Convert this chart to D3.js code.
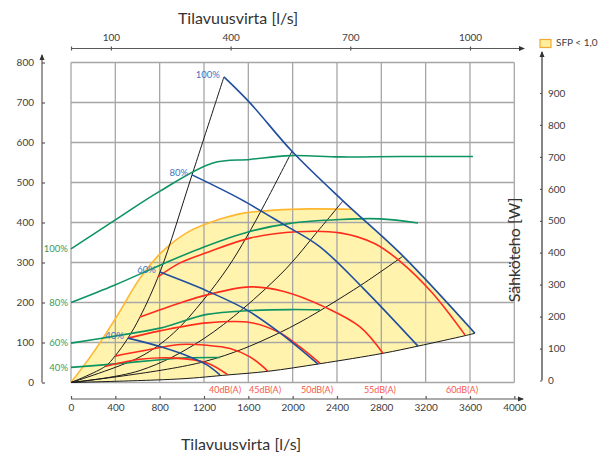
<!DOCTYPE html>
<html>
<head>
<meta charset="utf-8">
<script src="https://cdn.jsdelivr.net/npm/d3@7"></script>
<style>
    body { margin: 0; background: #fff; }
</style>
</head>
<body>
<div id="chart"></div>
<script>

/**
 * tick values
 */
const flowTicks = [0, 400, 800, 1200, 1600, 2000, 2400, 2800, 3200, 3600, 4000];   // bottom axis
const flowTopTicks = [0, 100, 400, 700, 1000];                                     // top axis, l/s
const pressureTicks = [0, 100, 200, 300, 400, 500, 600, 700, 800];
const powerTicks = [0, 100, 200, 300, 400, 500, 600, 700, 800, 900];

/**
 * fan curves [flow, pressure]
 */
const fanLabels = ["100%", "80%", "60%", "40%"];
const fan100 = [[1380, 764], [1615, 699], [1994, 578], [2454, 454], [2996, 316], [3645, 123]];
const fan80 = [[1092, 519], [1525, 459], [1913, 396], [2247, 339], [2635, 236], [3131, 91]];
const fan60 = [[803, 276], [1227, 229], [1588, 181], [1886, 124], [2229, 46]];
const fan40 = [[514, 111], [803, 90], [1074, 64], [1227, 44], [1344, 19]];

/**
 * electric power [flow, W] (right axis)
 */
const power100 = [[0, 412], [379, 498], [803, 593], [1281, 681], [1615, 692], [1976, 704], [2427, 700], [2969, 701], [3627, 701]];
const power80 = [[0, 244], [397, 299], [803, 361], [1200, 418], [1597, 465], [1976, 492], [2427, 504], [2788, 506], [3131, 493]];
const power60 = [[0, 117], [397, 139], [803, 164], [1227, 207], [1615, 219], [1976, 222], [2247, 221]];
const power40 = [[0, 41], [397, 52], [803, 65], [1044, 71], [1344, 72]];

/**
 * sound level curves [flow, pressure]
 */
const soundLabels = ["40dB(A)", "45dB(A)", "50dB(A)", "55dB(A)", "60dB(A)"];
const sound40 = [[307, 40], [623, 58], [938, 61], [1227, 49], [1417, 19]];
const sound45 = [[397, 66], [623, 78], [984, 95], [1227, 93], [1435, 85], [1615, 64], [1778, 28]];
const sound50 = [[514, 111], [803, 129], [1227, 149], [1615, 150], [1886, 124], [2066, 89], [2247, 48]];
const sound55 = [[623, 164], [984, 199], [1227, 219], [1615, 239], [1913, 228], [2310, 186], [2608, 139], [2815, 73]];
const sound60 = [[785, 264], [984, 299], [1227, 325], [1615, 361], [2039, 377], [2427, 374], [2743, 347], [2969, 303], [3257, 225], [3555, 119]];

/**
 * system curves [flow, pressure]
 */
const system1 = [[0, 0], [307, 40], [397, 66], [514, 111], [623, 164], [803, 276], [1092, 519], [1380, 764]];
const system2 = [[0, 0], [623, 64], [923, 123], [1194, 206], [1419, 289], [1585, 364], [1751, 448], [1994, 578]];
const system3 = [[0, 0], [623, 30], [1200, 110], [1886, 269], [2247, 385], [2454, 454]];
const system4 = [[0, 0], [1200, 52], [1886, 125], [2547, 231], [2996, 316]];
const system5 = [[0, 0], [984, 9], [1417, 19], [1778, 28], [2247, 47], [2815, 73], [3131, 91], [3555, 117], [3645, 123]];

// edge of the SFP < 1,0 area
const sfpEdge = [[0, 0], [199, 74], [415, 166], [623, 261], [830, 329], [1074, 379], [1317, 406], [1570, 424], [1841, 431], [2157, 434], [2527, 433]];

/**
 * constant variables
 */
const WIDTH = 611;
const HEIGHT = 461;
const FONT = "Lato, 'Open Sans', sans-serif";
const AXIS_COLOR = "#595959";
const TEXT_COLOR = "#404040";
const GRID_COLOR = "#a6a6a6";
const BLUE = "#1f4e9e";
const RED = "#ff2b1c";
const GREEN = "#0e9462";

const svg = d3.select("#chart").append("svg")
              .attr("width", WIDTH)
              .attr("height", HEIGHT);

const x = d3.scaleLinear().domain([0, 4000]).range([71, 514.3]);
const xTop = d3.scaleLinear().domain([0, 4000 / 3.6]).range([71, 514.3]);
const y = d3.scaleLinear().domain([0, 800]).range([382.5, 62.5]);
const yPower = d3.scaleLinear().domain([0, 900]).range([380.5, 93]);

const line = d3.line()
               .x(d => x(d[0]))
               .y(d => y(d[1]))
               .curve(d3.curveCatmullRom.alpha(0.5));

const powerLine = d3.line()
                    .x(d => x(d[0]))
                    .y(d => yPower(d[1]))
                    .curve(d3.curveCatmullRom.alpha(0.5));

// arrow head for the axes
svg.append("defs").append("marker")
   .attr("id", "arrow")
   .attr("viewBox", "0 0 6 6")
   .attr("refX", 5)
   .attr("refY", 3)
   .attr("markerWidth", 5)
   .attr("markerHeight", 5)
   .attr("orient", "auto")
   .append("path")
   .attr("d", "M0,0.5 L6,3 L0,5.5 Z")
   .attr("fill", "#333");

/**
 * SFP area: edge, then the 100% fan curve, then back along the lowest system curve
 */
const edgeEnd = sfpEdge[sfpEdge.length - 1];
const fanTail = [edgeEnd].concat(fan100.filter(d => d[0] > edgeEnd[0]));
const areaPath = line(sfpEdge)
               + line(fanTail).replace("M", "L")
               + line(system5.slice().reverse()).replace("M", "L")
               + "Z";

svg.append("path")
   .attr("d", areaPath)
   .attr("fill", "#fff3ad")
   .attr("stroke", "none");

/**
 * grid
 */
const grid = svg.append("g").attr("class", "grid");

grid.selectAll(".vline")
    .data(flowTicks)
    .enter()
    .append("line")
    .attr("x1", d => x(d))
    .attr("x2", d => x(d))
    .attr("y1", y(0))
    .attr("y2", y(800))
    .attr("stroke", GRID_COLOR)
    .attr("stroke-width", 1.3);

grid.selectAll(".hline")
    .data(pressureTicks)
    .enter()
    .append("line")
    .attr("x1", x(0))
    .attr("x2", x(4000))
    .attr("y1", d => y(d))
    .attr("y2", d => y(d))
    .attr("stroke", GRID_COLOR)
    .attr("stroke-width", 1.3);

svg.append("path")
   .attr("d", line(sfpEdge))
   .attr("fill", "none")
   .attr("stroke", "#ffb630")
   .attr("stroke-width", 1.6);

/**
 * curves
 */
[system1, system2, system3, system4, system5].forEach(s => {
    svg.append("path")
       .attr("d", line(s))
       .attr("fill", "none")
       .attr("stroke", "#1a1a1a")
       .attr("stroke-width", 1);
});

const powers = [power100, power80, power60, power40];
powers.forEach((p, i) => {
    svg.append("path")
       .attr("d", powerLine(p))
       .attr("fill", "none")
       .attr("stroke", GREEN)
       .attr("stroke-width", 1.6);

    svg.append("text")
       .attr("x", x(p[0][0]) - 3)
       .attr("y", yPower(p[0][1]))
       .attr("dy", "0.35em")
       .attr("text-anchor", "end")
       .attr("font-family", FONT)
       .attr("font-size", 9.5)
       .attr("fill", "#3a9a5c")
       .text(fanLabels[i]);
});

const sounds = [sound40, sound45, sound50, sound55, sound60];
sounds.forEach((s, i) => {
    svg.append("path")
       .attr("d", line(s))
       .attr("fill", "none")
       .attr("stroke", RED)
       .attr("stroke-width", 1.6);

    const last = s[s.length - 1];
    svg.append("text")
       .attr("x", x(last[0]) - 3)
       .attr("y", y(0) + 4)
       .attr("dy", "0.71em")
       .attr("text-anchor", "middle")
       .attr("font-family", FONT)
       .attr("font-size", 9)
       .attr("fill", "#f85a4a")
       .text(soundLabels[i]);
});

const fans = [fan100, fan80, fan60, fan40];
fans.forEach((f, i) => {
    svg.append("path")
       .attr("d", line(f))
       .attr("fill", "none")
       .attr("stroke", BLUE)
       .attr("stroke-width", 1.6);

    svg.append("text")
       .attr("x", x(f[0][0]) - 4)
       .attr("y", y(f[0][1]) - 2)
       .attr("dy", "0.35em")
       .attr("text-anchor", "end")
       .attr("font-family", FONT)
       .attr("font-size", 9.5)
       .attr("fill", "#4472c4")
       .text(fanLabels[i]);
});

/**
 * axes
 */
function styleAxis(g)
{
    g.attr("font-family", FONT)
     .attr("font-size", 10);
    g.select(".domain").remove();
    g.selectAll(".tick line").attr("stroke", AXIS_COLOR).attr("stroke-width", 1.2);
    g.selectAll(".tick text").attr("fill", TEXT_COLOR);
}

// left: pressure
svg.append("line")
   .attr("x1", 42).attr("x2", 42)
   .attr("y1", y(0)).attr("y2", 55)
   .attr("stroke", AXIS_COLOR).attr("stroke-width", 1.2)
   .attr("marker-end", "url(#arrow)");

svg.append("g")
   .attr("transform", "translate(42, 0)")
   .call(d3.axisLeft(y).tickValues(pressureTicks).tickSizeInner(-3).tickSizeOuter(0).tickPadding(8))
   .call(styleAxis);

// bottom: flow
svg.append("line")
   .attr("x1", x(0)).attr("x2", 523)
   .attr("y1", 399).attr("y2", 399)
   .attr("stroke", AXIS_COLOR).attr("stroke-width", 1.2)
   .attr("marker-end", "url(#arrow)");

svg.append("g")
   .attr("transform", "translate(0, 399)")
   .call(d3.axisBottom(x).tickValues(flowTicks).tickFormat(d3.format("d"))
                         .tickSizeInner(-3).tickSizeOuter(0).tickPadding(5))
   .call(styleAxis);

// top: flow l/s
svg.append("line")
   .attr("x1", xTop(0)).attr("x2", 524)
   .attr("y1", 48.5).attr("y2", 48.5)
   .attr("stroke", AXIS_COLOR).attr("stroke-width", 1.2)
   .attr("marker-end", "url(#arrow)");

svg.append("g")
   .attr("transform", "translate(0, 48.5)")
   .call(d3.axisTop(xTop).tickValues(flowTopTicks).tickSizeInner(2).tickSizeOuter(0).tickPadding(6)
                         .tickFormat(d => d === 0 ? "" : d))
   .call(styleAxis)
   .selectAll(".tick line").attr("y1", 2).attr("y2", -2);

// right: power
svg.append("line")
   .attr("x1", 542).attr("x2", 542)
   .attr("y1", yPower(0)).attr("y2", 52)
   .attr("stroke", "#333").attr("stroke-width", 1.2)
   .attr("marker-end", "url(#arrow)");

svg.append("g")
   .attr("transform", "translate(542, 0)")
   .call(d3.axisRight(yPower).tickValues(powerTicks).tickSizeInner(-2).tickSizeOuter(0).tickPadding(6))
   .call(styleAxis);

/**
 * titles
 */
svg.append("text")
   .attr("x", 238)
   .attr("y", 24)
   .attr("text-anchor", "middle")
   .attr("font-family", FONT)
   .attr("font-size", 16)
   .attr("fill", "#333")
   .text("Tilavuusvirta [l/s]");

svg.append("text")
   .attr("x", 241)
   .attr("y", 450)
   .attr("text-anchor", "middle")
   .attr("font-family", FONT)
   .attr("font-size", 16)
   .attr("fill", "#333")
   .text("Tilavuusvirta [l/s]");

svg.append("text")
   .attr("transform", "translate(520, 250) rotate(-90)")
   .attr("text-anchor", "middle")
   .attr("font-family", FONT)
   .attr("font-size", 16)
   .attr("fill", "#333")
   .text("Sähköteho [W]");

/**
 * legend
 */
svg.append("rect")
   .attr("x", 540)
   .attr("y", 39.5)
   .attr("width", 11)
   .attr("height", 8)
   .attr("fill", "#ffef9e")
   .attr("stroke", "#f8a830")
   .attr("stroke-width", 1.2);

svg.append("text")
   .attr("x", 556)
   .attr("y", 46)
   .attr("font-family", FONT)
   .attr("font-size", 10)
   .attr("fill", TEXT_COLOR)
   .text("SFP < 1,0");

</script>
</body>
</html>
